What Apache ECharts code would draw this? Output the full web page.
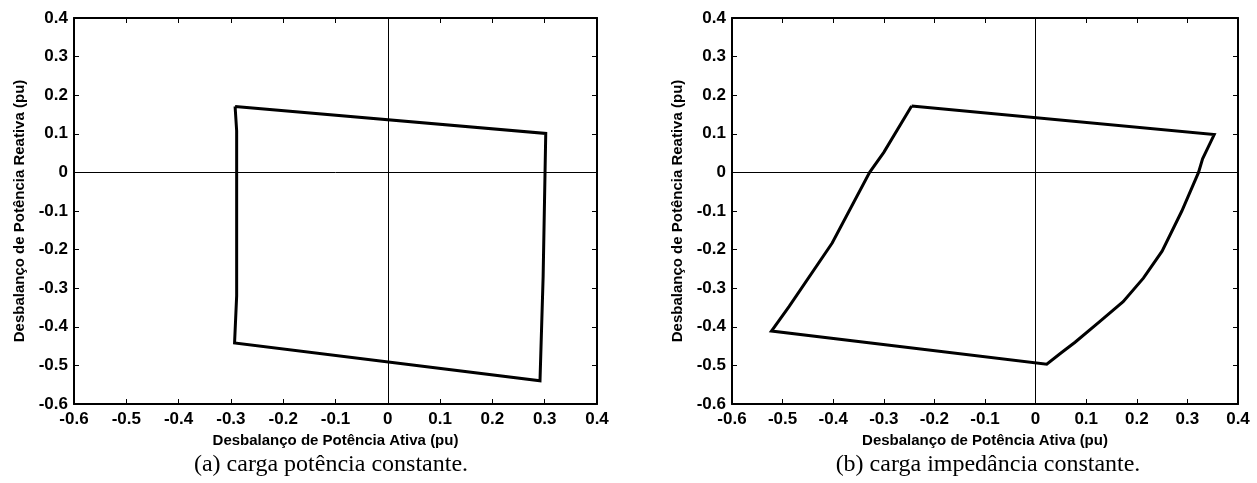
<!DOCTYPE html>
<html>
<head>
<meta charset="utf-8">
<script src="https://cdn.jsdelivr.net/npm/echarts@6/dist/echarts.min.js"></script>
<style>
  html, body { margin: 0; padding: 0; background: #fff; }
  #chart { width: 1257px; height: 483px; }
</style>
</head>
<body>
<div id="chart"></div>
<script>
// Tick values shared by both panels
const xTicks = [-0.6, -0.5, -0.4, -0.3, -0.2, -0.1, 0, 0.1, 0.2, 0.3, 0.4];
const yTicks = [-0.6, -0.5, -0.4, -0.3, -0.2, -0.1, 0, 0.1, 0.2, 0.3, 0.4];

// (a) constant-power load: active vs reactive power imbalance (pu)
const loopConstPowerP = [-0.292, -0.289, -0.289, -0.293, 0.291, 0.297, 0.302, -0.292];
const loopConstPowerQ = [0.171, 0.108, -0.320, -0.442, -0.540, -0.270, 0.101, 0.171];

// (b) constant-impedance load
const loopConstImpP = [-0.245, 0.353, 0.330, 0.322, 0.289, 0.250, 0.213, 0.173, 0.126, 0.078, 0.052, 0.022,
                       -0.522, -0.487, -0.402, -0.328, -0.300, -0.245];
const loopConstImpQ = [0.172, 0.098, 0.035, 0.000, -0.100, -0.204, -0.274, -0.335, -0.387, -0.440, -0.466, -0.497,
                       -0.411, -0.347, -0.183, 0.000, 0.052, 0.172];

const xName = 'Desbalanço de Potência Ativa (pu)';
const yName = 'Desbalanço de Potência Reativa (pu)';
const captions = ['(a) carga potência constante.', '(b) carga impedância constante.'];

const pairs = (xs, ys) => xs.map((x, i) => [x, ys[i]]);

const tickFont = { fontFamily: 'Liberation Sans, Arial, sans-serif', fontWeight: 'bold', fontSize: 17, color: '#000' };
const nameFont = { fontFamily: 'Liberation Sans, Arial, sans-serif', fontWeight: 'bold', fontSize: 15, color: '#000' };
const lineBlack = { lineStyle: { color: '#000', width: 2 } };

function makeXAxis(gridIndex, main) {
  return {
    type: 'value', gridIndex,
    position: main ? 'bottom' : 'top',
    min: xTicks[0], max: xTicks[xTicks.length - 1], interval: 0.1,
    axisLine: { show: true, onZero: false, ...lineBlack },
    axisTick: { show: true, inside: true, length: 5, lineStyle: { color: '#000', width: 1 } },
    axisLabel: main ? { show: true, margin: 7, ...tickFont } : { show: false },
    splitLine: { show: false },
    name: main ? xName : '',
    nameLocation: 'middle', nameGap: 25,
    nameTextStyle: { ...nameFont }
  };
}

function makeYAxis(gridIndex, main) {
  return {
    type: 'value', gridIndex,
    position: main ? 'left' : 'right',
    min: yTicks[0], max: yTicks[yTicks.length - 1], interval: 0.1,
    axisLine: { show: true, onZero: false, ...lineBlack },
    axisTick: { show: true, inside: true, length: 5, lineStyle: { color: '#000', width: 1 } },
    axisLabel: main ? { show: true, margin: 6, ...tickFont } : { show: false },
    splitLine: { show: false },
    name: main ? yName : '',
    nameLocation: 'middle', nameGap: 47, nameRotate: 90,
    nameTextStyle: { ...nameFont }
  };
}

function loopSeries(idx, data) {
  return {
    type: 'line', xAxisIndex: idx * 2, yAxisIndex: idx * 2,
    data, showSymbol: false, symbol: 'none', animation: false,
    lineStyle: { color: '#000', width: 3, join: 'miter' },
    markLine: {
      silent: true, symbol: 'none', animation: false,
      label: { show: false },
      lineStyle: { color: '#000', width: 1, type: 'solid' },
      data: [{ xAxis: 0 }, { yAxis: 0 }]
    }
  };
}

const captionFont = '24px "Liberation Serif", "Times New Roman", serif';

const chart = echarts.init(document.getElementById('chart'), null, { renderer: 'canvas' });
chart.setOption({
  animation: false,
  backgroundColor: '#fff',
  grid: [
    { left: 74, top: 18, width: 523, height: 386 },
    { left: 732, top: 18, width: 506, height: 386 }
  ],
  xAxis: [makeXAxis(0, true), makeXAxis(0, false), makeXAxis(1, true), makeXAxis(1, false)],
  yAxis: [makeYAxis(0, true), makeYAxis(0, false), makeYAxis(1, true), makeYAxis(1, false)],
  series: [
    loopSeries(0, pairs(loopConstPowerP, loopConstPowerQ)),
    loopSeries(1, pairs(loopConstImpP, loopConstImpQ))
  ],
  graphic: [
    { type: 'text', x: 331, y: 465, style: { text: captions[0], align: 'center', verticalAlign: 'middle',
      font: captionFont, fill: '#000' } },
    { type: 'text', x: 988, y: 465, style: { text: captions[1], align: 'center', verticalAlign: 'middle',
      font: captionFont, fill: '#000' } }
  ]
});
</script>
</body>
</html>
